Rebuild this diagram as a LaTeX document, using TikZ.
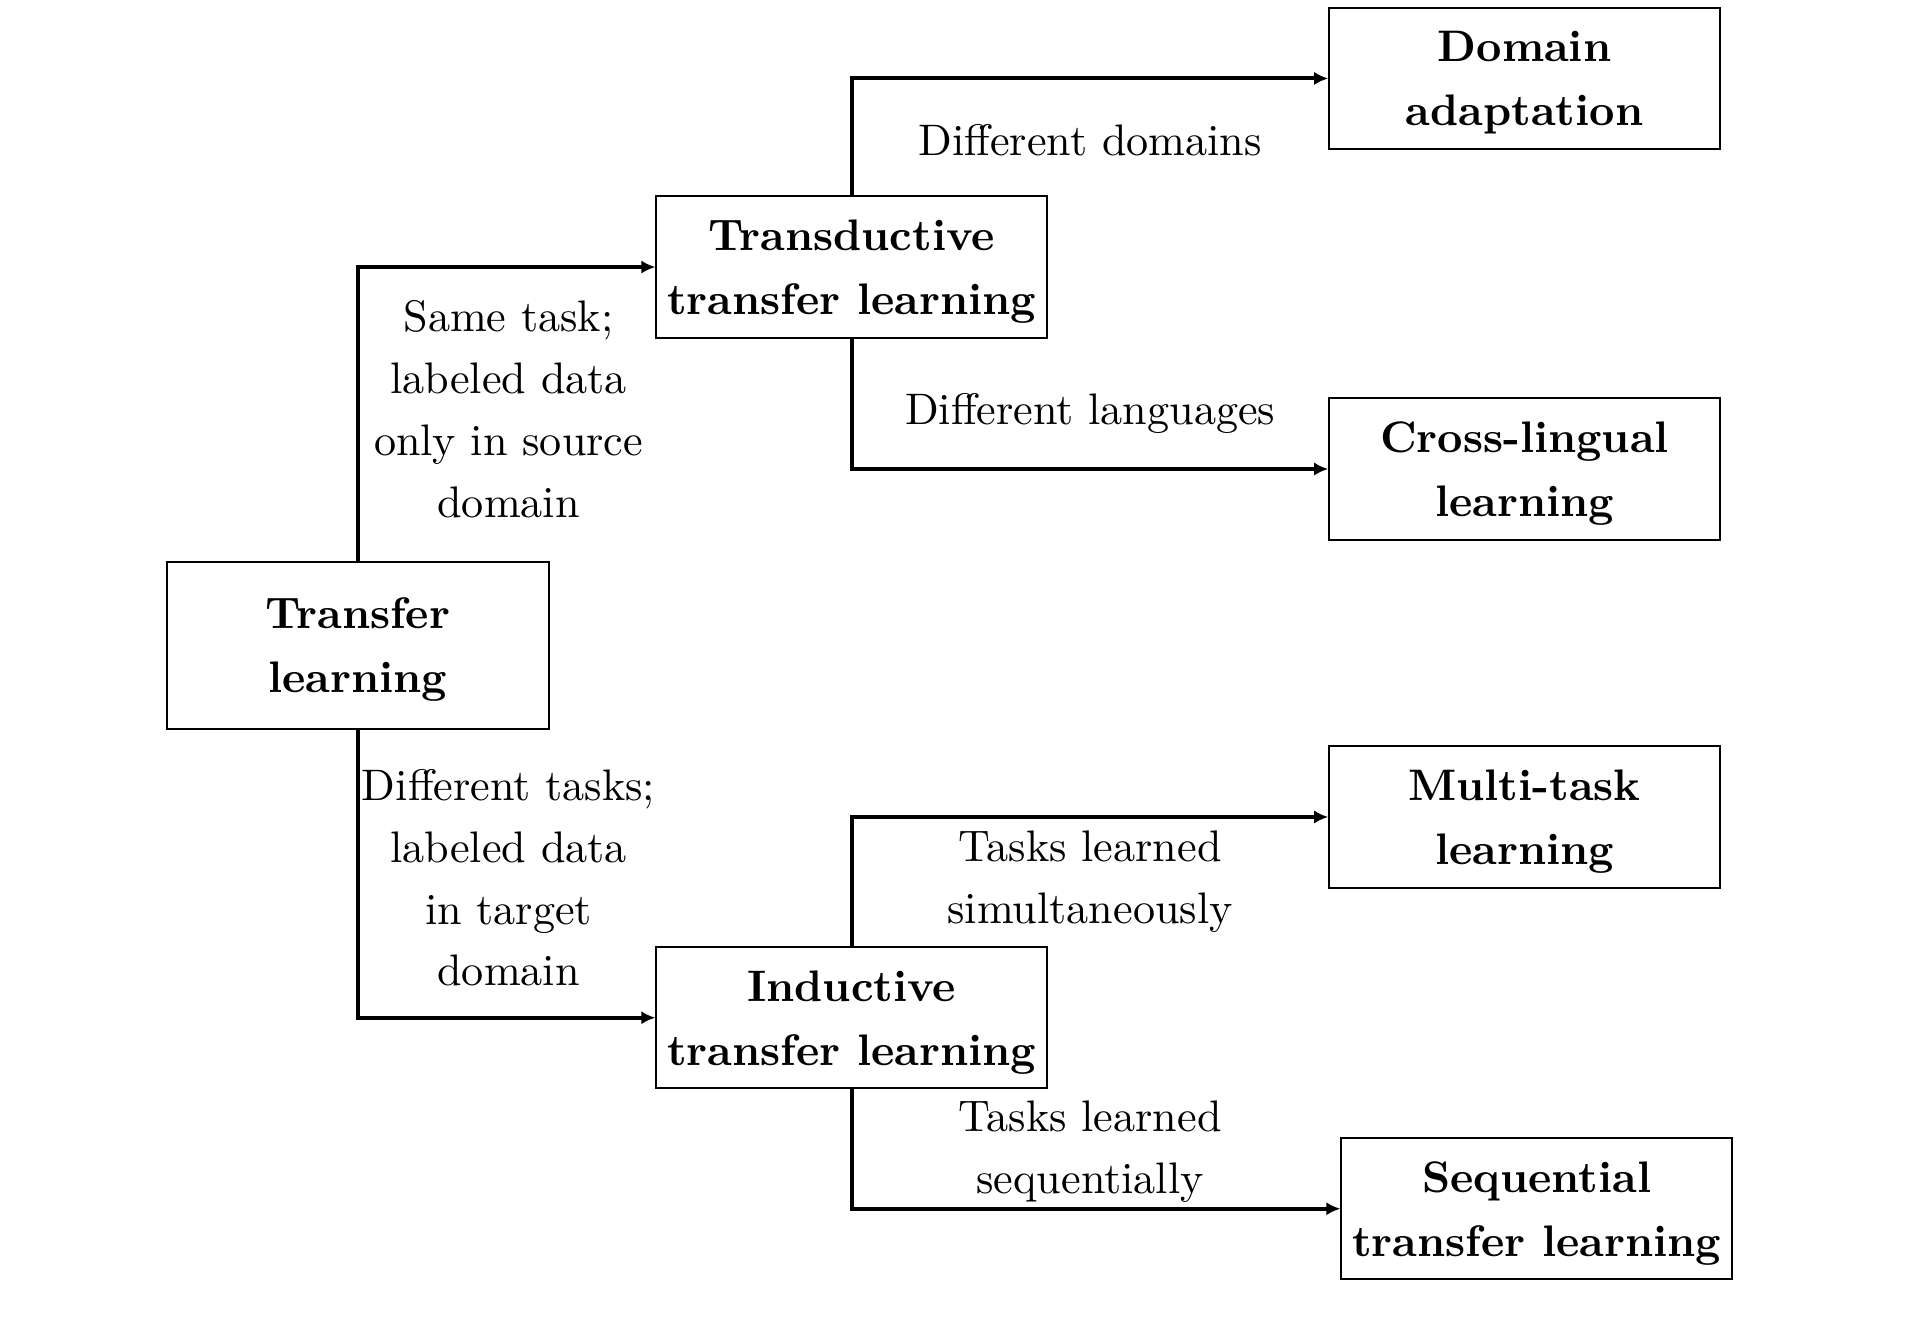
\documentclass[tikz,border=0pt]{standalone}
\usetikzlibrary{arrows.meta}
\newcommand\boxtxt[1]{\raisebox{-0.6pt}[\height][\depth]{\begin{tabular}{@{}c@{}}#1\end{tabular}}}
\begin{document}
\begin{tikzpicture}[x=0.2755pt,y=-0.2755pt,
  box/.style={draw,line width=0.45pt,rectangle,align=center,inner sep=0pt,
    minimum width=88.4pt,minimum height=32pt,font=\fontsize{10}{14.5}\selectfont\bfseries},
  lbl/.style={align=center,inner sep=0pt,font=\fontsize{10}{14}\selectfont},
  arr/.style={line width=0.9pt,-{Latex[length=3.2pt,width=3pt]}}]
\useasboundingbox (0,1.5) rectangle (1566.6,1092.2);
\node[box,minimum width=86.5pt,minimum height=38pt] (tl) at (294,532) {\boxtxt{Transfer\\learning}};
\node[box] (td) at (700,221) {\boxtxt{Transductive\\transfer learning}};
\node[box] (ind) at (700,838) {\boxtxt{Inductive\\transfer learning}};
\node[box] (da) at (1253,66) {\boxtxt{Domain\\adaptation}};
\node[box] (cl) at (1253,387) {\boxtxt{Cross-lingual\\learning}};
\node[box] (mt) at (1253,673) {\boxtxt{Multi-task\\learning}};
\node[box] (sq) at (1263,995) {\boxtxt{Sequential\\transfer learning}};
\draw[arr] (tl.north) |- (td.west);
\draw[arr] (tl.south) |- (ind.west);
\draw[arr] (td.north) |- (da.west);
\draw[arr] (td.south) |- (cl.west);
\draw[arr] (ind.north) |- (mt.west);
\draw[arr] (ind.south) |- (sq.west);
\node[lbl] (l1) at (418,338) {Same task;\\labeled data\\only in source\\domain};
\node[lbl] (l2) at (418,723) {Different tasks;\\labeled data\\in target\\domain};
\node[lbl] (l3) at (896,117) {Different domains};
\node[lbl] (l4) at (896,341.5) {Different languages};
\node[lbl] (l5) at (896,726) {Tasks learned\\simultaneously};
\node[lbl] (l6) at (896,948) {Tasks learned\\sequentially};
\end{tikzpicture}
\end{document}
